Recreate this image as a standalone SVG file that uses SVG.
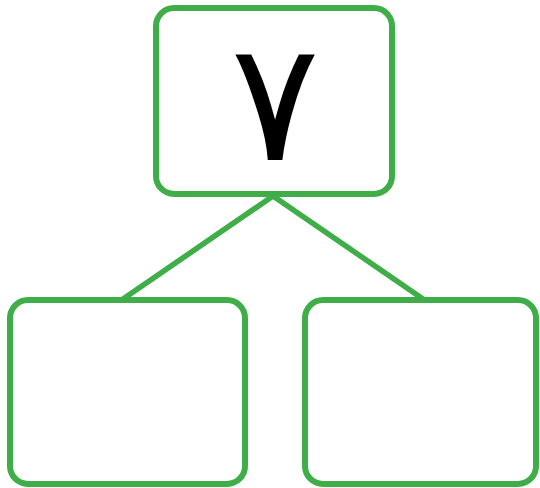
<svg xmlns="http://www.w3.org/2000/svg" width="540" height="488" viewBox="0 0 540 488">
<style>
.box{fill:#fff;stroke:#3fae49;stroke-width:6}
.link{stroke:#3fae49;stroke-width:5.5;fill:none}
.num{font-family:"DejaVu Sans","Noto Sans",sans-serif;font-size:166px;fill:#000;text-anchor:middle}
</style>
<rect width="540" height="488" fill="#fff"/>
<g id="connectors">
<line class="link" x1="273" y1="196" x2="123" y2="299"/>
<line class="link" x1="273" y1="196" x2="423" y2="299"/>
</g>
<g id="top">
<rect class="box" x="156" y="8" width="236" height="186" rx="18"/>
<text class="num" x="275" y="160">٧</text>
</g>
<g id="left">
<rect class="box" x="10" y="300" width="235" height="184" rx="18"/>
</g>
<g id="right">
<rect class="box" x="305" y="300" width="231" height="184" rx="18"/>
</g>
</svg>
